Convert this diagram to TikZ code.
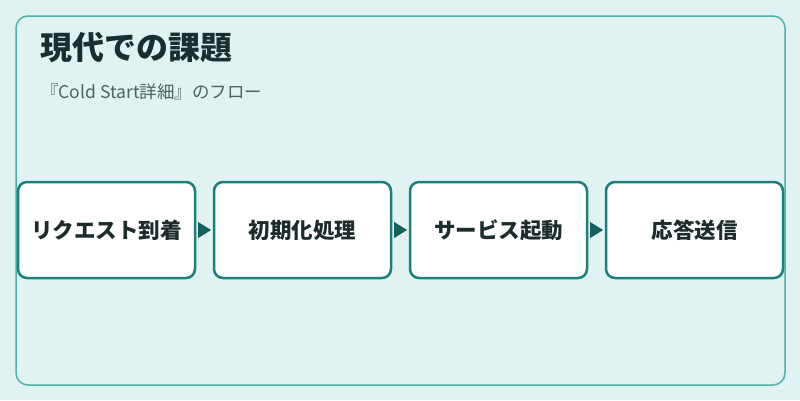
\documentclass[tikz,border=0pt]{standalone}
\usepackage{fontspec}
\setmainfont{Noto Sans CJK JP}
\usepackage{tikz}
\usetikzlibrary{positioning, arrows.meta}
\definecolor{PageColor}{RGB}{224,243,242}
\definecolor{CardLine}{RGB}{77,176,172}
\definecolor{StepLine}{RGB}{27,128,123}
\definecolor{FlowColor}{RGB}{20,96,91}
\definecolor{TitleColor}{RGB}{23,48,47}
\definecolor{SubColor}{RGB}{74,100,97}
\definecolor{TextColor}{RGB}{28,43,43}
\tikzset{
  card/.style={fill=PageColor, draw=CardLine, line width=1.5pt, rounded corners=12pt},
  stepbox/.style={rectangle, rounded corners=9pt, draw=StepLine, line width=2.5pt, fill=white,
    minimum width=177pt, minimum height=96pt, outer sep=0pt, text=TextColor,
    font=\fontsize{21.5}{25}\selectfont\bfseries},
  flow/.style={-{Triangle[length=13pt, width=16pt]}, FlowColor, line width=1pt, shorten <=3pt, shorten >=3pt}
}

\begin{document}
\begin{tikzpicture}[x=1pt, y=-1pt]
    % Page and card
    \fill[PageColor] (0,0) rectangle (800,400);
    \useasboundingbox (0,0) rectangle (800,400);
    \draw[card] (16,16) rectangle (785,385);

    % Heading
    \node[anchor=west, inner sep=0pt, text=TitleColor, font=\fontsize{32}{36}\selectfont\bfseries] (title) at (40,47) {現代での課題};
    \node[anchor=west, inner sep=0pt, text=SubColor, font=\fontsize{17.5}{21}\selectfont] (subtitle) at (41,92) {『Cold Start詳細』のフロー};

    % Steps
    \node[stepbox] (request) at (106.5,230) {リクエスト到着};
    \node[stepbox, right=19pt of request] (init) {初期化処理};
    \node[stepbox, right=19pt of init] (boot) {サービス起動};
    \node[stepbox, right=19pt of boot] (reply) {応答送信};

    % Flow arrows
    \draw[flow] (request) -- (init);
    \draw[flow] (init) -- (boot);
    \draw[flow] (boot) -- (reply);
\end{tikzpicture}
\end{document}
